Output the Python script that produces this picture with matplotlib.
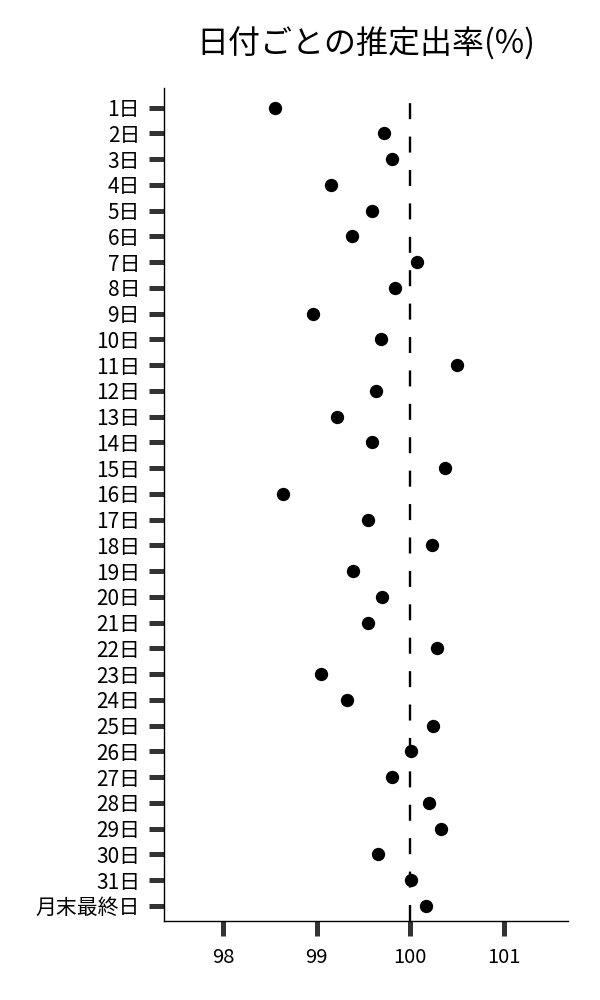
import matplotlib
matplotlib.use("Agg")
import matplotlib.pyplot as plt

plt.rcParams['font.family'] = ['Noto Sans CJK JP', 'DejaVu Sans']

days = [f"{i}日" for i in range(1, 32)] + ["月末最終日"]
rates = [98.55, 99.72, 99.80, 99.15, 99.59, 99.38, 100.07, 99.84, 98.96, 99.69,
         100.50, 99.63, 99.22, 99.59, 100.37, 98.64, 99.55, 100.23, 99.39, 99.70,
         99.55, 100.29, 99.05, 99.32, 100.24, 100.01, 99.81, 100.20, 100.33, 99.65,
         100.01, 100.17]
xticks = [98, 99, 100, 101]
title = "日付ごとの推定出率(%)"

fig = plt.figure(figsize=(6, 10), dpi=100)
ax = fig.add_axes([0.274, 0.079, 0.673, 0.833])

ypos = list(range(len(days)))
ax.axvline(100, color='black', linewidth=1.7,
           linestyle=(0, (6.78, 7.37)), zorder=1)
ax.scatter(rates, ypos, s=92, color='black', zorder=3, linewidths=0)

ax.set_yticks(ypos)
ax.set_yticklabels(days)
ax.set_xticks(xticks)
ax.set_xticklabels([str(x) for x in xticks])
ax.set_ylim(len(days) - 1 + 0.59, -0.76)
ax.set_xlim(97.37, 101.69)

for s in ['top', 'right']:
    ax.spines[s].set_visible(False)
for s in ['left', 'bottom']:
    ax.spines[s].set_linewidth(1.0)
    ax.spines[s].set_color('black')

ax.tick_params(axis='both', length=11, width=3.6, color='#333333')
ax.tick_params(axis='y', pad=6.5, labelsize=15)
ax.tick_params(axis='x', pad=7.5, labelsize=14.5)

fig.text((0.274 + 0.947) / 2, 0.946, title, ha='center', va='baseline', fontsize=23)

fig.savefig("out.png", dpi=100)
